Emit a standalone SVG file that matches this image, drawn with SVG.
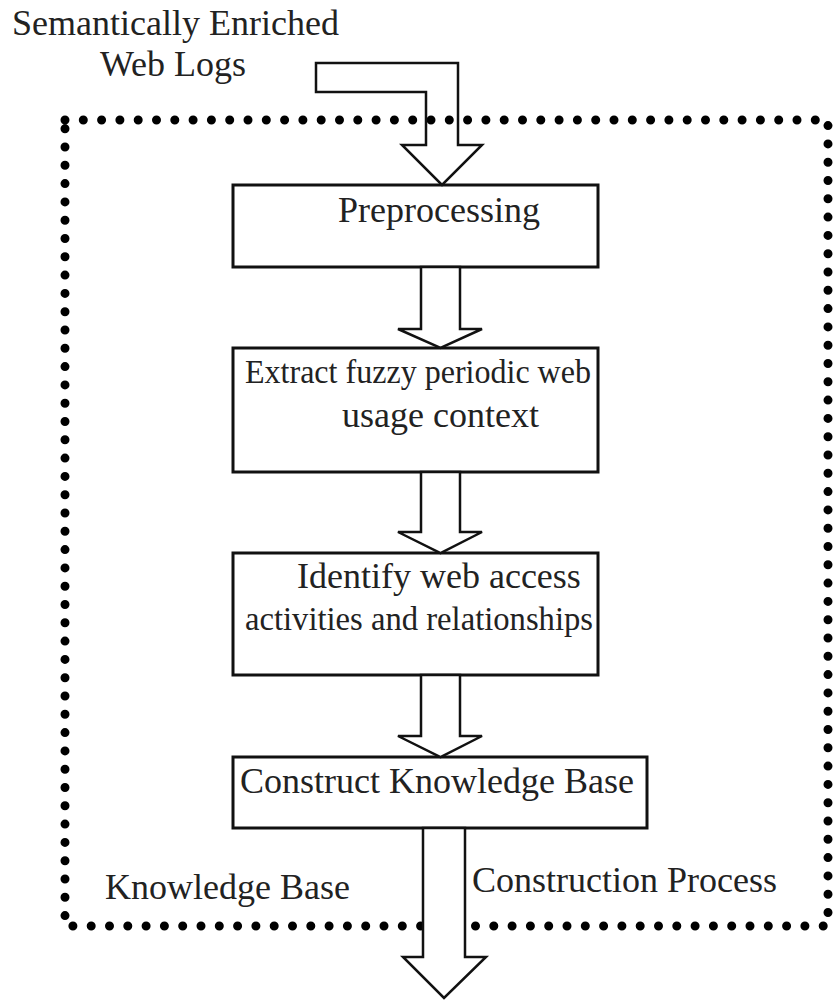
<svg xmlns="http://www.w3.org/2000/svg" width="833" height="1001" viewBox="0 0 833 1001">
<style>
.box{fill:#fff;stroke:#111;stroke-width:3}
.arr{fill:#fff;stroke:#111;stroke-width:2.5;stroke-linejoin:miter}
.t{font-family:"Liberation Serif","Times New Roman",serif;font-size:36px;fill:#222}
.dots{fill:none;stroke:#000;stroke-width:9;stroke-linecap:round;stroke-dasharray:0 18.3}
</style>
<rect width="833" height="1001" fill="#fff"/>
<g id="boundary">
<path class="dots" d="M65,120 H828 V926 H65 Z"/>
<text class="t" x="105" y="899">Knowledge Base</text>
<text class="t" x="472" y="892">Construction Process</text>
</g>
<g id="input">
<text class="t" x="12" y="35">Semantically Enriched</text>
<text class="t" x="100" y="76">Web Logs</text>
</g>
<g id="preprocessing">
<rect class="box" x="233" y="185" width="365" height="82"/>
<text class="t" x="338" y="222">Preprocessing</text>
</g>
<g id="extract">
<rect class="box" x="233" y="348" width="365" height="124"/>
<text class="t" x="245" y="383" style="font-size:34px" textLength="346" lengthAdjust="spacingAndGlyphs">Extract fuzzy periodic web</text>
<text class="t" x="342" y="427">usage context</text>
</g>
<g id="identify">
<rect class="box" x="233" y="553" width="365" height="122"/>
<text class="t" x="297" y="588">Identify web access</text>
<text class="t" x="245" y="630" style="font-size:34px" textLength="348" lengthAdjust="spacingAndGlyphs">activities and relationships</text>
</g>
<g id="construct">
<rect class="box" x="233" y="757" width="414" height="71"/>
<text class="t" x="240" y="793">Construct Knowledge Base</text>
</g>
<g id="connectors">
<path class="arr" style="fill:none" d="M316,63 H458 V145 H482 L442,185 L402,145 H426 V92 H316 Z"/>
<path class="arr" d="M421,267 V329 H398 L440.5,348 L482,329 H460 V267 Z"/>
<path class="arr" d="M421,472 V532 H398 L440.5,553 L482,532 H460 V472 Z"/>
<path class="arr" d="M421,675 V736 H398 L440.5,757 L482,736 H460 V675 Z"/>
<path class="arr" d="M423,828 V957 H403 L444,998 L486,957 H465 V828 Z"/>
</g>
</svg>
